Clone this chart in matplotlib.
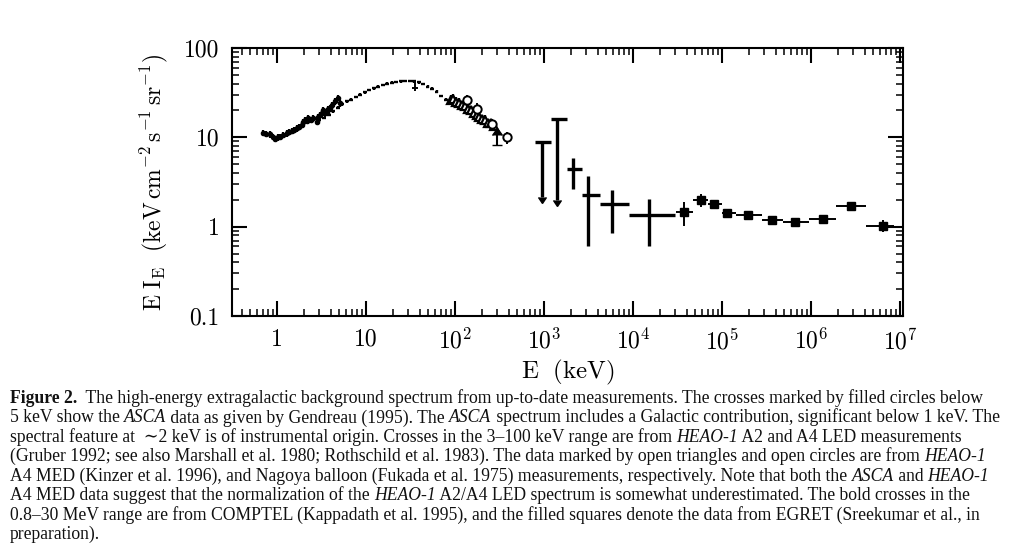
import matplotlib
matplotlib.use("Agg")
from matplotlib import pyplot as plt
import numpy as np

plt.rcParams['mathtext.fontset'] = 'cm'
plt.rcParams['font.family'] = ['DejaVu Serif']

# ASCA, crosses with filled circles (E in keV, E*I_E in keV cm^-2 s^-1 sr^-1)
asca_e = [0.70, 0.76, 0.83, 0.89, 0.95, 1.02, 1.08, 1.18, 1.29, 1.37, 1.46, 1.56,
          1.66, 1.77, 1.89, 1.97, 2.06, 2.15, 2.25, 2.40, 2.56, 2.79, 2.91, 3.04,
          3.17, 3.31, 3.45, 3.60, 3.77, 3.94, 4.20, 4.48, 4.79, 5.10]
asca_f = [11.3, 11.0, 10.8, 10.2, 9.7, 10.0, 10.2, 10.7, 11.1, 11.5, 11.8, 12.2,
          12.6, 13.0, 13.7, 14.8, 15.6, 15.3, 16.3, 15.6, 16.3, 15.0, 16.8, 17.8,
          18.8, 20.2, 18.5, 19.4, 20.5, 21.1, 22.8, 25.2, 27.8, 24.0]

# HEAO-1 A2 / A4 LED crosses
heao_e = [3.0, 3.4, 3.8, 4.3, 4.8, 5.4, 6.1, 6.8, 7.7, 8.6, 9.7, 10.9, 12.2, 13.7,
          15.4, 17.3, 19.4, 21.8, 24.5, 27.5, 30.9, 34.7, 39.0, 43.8, 49.2, 55.3,
          62.1, 69.8, 78.4, 88.0]
heao_f = [15.5, 16.5, 18.0, 19.5, 21.5, 23.5, 25.2, 26.5, 28.2, 30.0, 32.0, 33.8,
          35.5, 37.0, 38.6, 40.0, 41.0, 41.8, 42.3, 42.6, 42.8, 42.3, 41.5, 39.5,
          37.0, 35.0, 32.5, 29.0, 26.5, 25.0]
heao_big_e = [35.6]
heao_big_f = [35.5]

# HEAO-1 A4 MED, open triangles
med_e = [90, 96, 103, 112, 120, 130, 140, 150, 162, 175, 188, 202, 218, 234, 252, 272]
med_f = [26.5, 27.0, 25.0, 24.5, 23.0, 22.5, 20.5, 20.0, 18.5, 18.0, 17.0, 16.0,
         15.8, 14.5, 14.5, 13.5]
med_lim_e = [295]
med_lim_f = [8.2]

# Nagoya balloon, open circles
nag_e = [135, 176, 258, 380]
nag_f = [26.0, 21.0, 14.0, 10.0]

# COMPTEL bold crosses (bins in keV)
comptel_lo = [2700, 4300, 9000, 1800]
comptel_hi = [4300, 9000, 30000, 2700]
comptel_e = [3120, 5750, 15100, 2140]
comptel_f = [2.25, 1.78, 1.34, 4.37]
comptel_top = [3.71, 2.56, 2.03, 5.80]
comptel_bot = [0.607, 0.857, 0.607, 2.63]
# COMPTEL upper limits
climit_lo = [800, 1200]
climit_hi = [1200, 1800]
climit_e = [942, 1412]
climit_f = [8.9, 16.1]
climit_end = [2.17, 1.98]

# EGRET filled squares
egret_lo = [30400, 47600, 70000, 100000, 143000, 283000, 480000, 960000, 1.9e6, 4.1e6]
egret_hi = [47600, 70000, 100000, 143000, 283000, 480000, 960000, 1.9e6, 4.1e6, 8.6e6]
egret_e = [37400, 57700, 81900, 113000, 194000, 361000, 661000, 1.35e6, 2.82e6, 6.46e6]
egret_f = [1.46, 2.01, 1.78, 1.43, 1.34, 1.20, 1.13, 1.23, 1.71, 1.03]
egret_err = [0.45, 0.33, 0.10, 0.10, 0.06, 0.06, 0.06, 0.08, 0.10, 0.15]

xtick_vals = [1, 10, 1e2, 1e3, 1e4, 1e5, 1e6, 1e7]
xtick_labels = ['1', '10', '$10^2$', '$10^3$', '$10^4$', '$10^5$', '$10^6$', '$10^7$']
ytick_vals = [0.1, 1, 10, 100]
ytick_labels = ['0.1', '1', '10', '100']

W, H = 1013, 559
fig = plt.figure(figsize=(W / 100, H / 100), dpi=100)
ax = fig.add_axes([232 / W, 1 - 316 / H, (903 - 232) / W, (316 - 48) / H])
ax.set_xscale('log')
ax.set_yscale('log')
ax.set_xlim(0.312, 1.08e7)
ax.set_ylim(0.1, 100)

k = 'black'
a_e = np.array(asca_e)
ax.errorbar(asca_e, asca_f, yerr=np.array(asca_f) * 0.08, xerr=a_e * 0.035,
            fmt='o', ms=3, color=k, lw=1.6, capsize=0)
h_e = np.array(heao_e)
ax.errorbar(heao_e, heao_f, yerr=np.array(heao_f) * 0.035, xerr=h_e * 0.05,
            fmt='none', color=k, lw=1.7, capsize=0)
ax.errorbar(heao_big_e, heao_big_f, yerr=[[2.7], [5.9]], xerr=[[2.5], [2.5]],
            fmt='none', color=k, lw=1.4, capsize=0)
ax.errorbar(med_e, med_f, yerr=np.array(med_f) * 0.12, xerr=np.array(med_e) * 0.035,
            fmt='^', ms=5.5, mfc='white', mec=k, mew=1.6, color=k, lw=1.6, capsize=0)
ax.errorbar(med_lim_e, med_lim_f, yerr=[2.3], lolims=[True], fmt='none',
            color=k, lw=1.5, capsize=3.5)
nf = np.array(nag_f)
ax.errorbar(nag_e, nag_f, yerr=nf * 0.16, fmt='o', ms=6, mfc='white', mec=k,
            mew=1.4, color=k, lw=1.4, capsize=0)

ce = np.array(comptel_e)
ax.errorbar(comptel_e, comptel_f,
            xerr=[ce - np.array(comptel_lo), np.array(comptel_hi) - ce],
            yerr=[np.array(comptel_f) - np.array(comptel_bot),
                  np.array(comptel_top) - np.array(comptel_f)],
            fmt='none', color=k, lw=2.4, capsize=0)
le = np.array(climit_e)
lf = np.array(climit_f)
ax.errorbar(climit_e, climit_f, xerr=[le - np.array(climit_lo), np.array(climit_hi) - le],
            fmt='none', color=k, lw=2.4, capsize=0)
ax.errorbar(climit_e, climit_f, yerr=lf - np.array(climit_end), uplims=[True, True],
            fmt='none', color=k, lw=2.4, capsize=3)

ee = np.array(egret_e)
ax.errorbar(egret_e, egret_f, xerr=[ee - np.array(egret_lo), np.array(egret_hi) - ee],
            yerr=egret_err, fmt='s', ms=6, color=k, lw=1.4, capsize=0)

ax.set_xticks(xtick_vals)
ax.set_xticklabels(xtick_labels)
ax.set_yticks(ytick_vals)
ax.set_yticklabels(ytick_labels)
ax.minorticks_on()
for s in ax.spines.values():
    s.set_linewidth(1.5)
ax.tick_params(which='both', direction='in', top=True, right=True, labelsize=17)
ax.tick_params(which='major', length=11, width=1.5, pad=9)
ax.tick_params(which='minor', length=5, width=1.1)
for lab in ax.get_xticklabels() + ax.get_yticklabels():
    lab.set_fontfamily('cmr10')
ax.set_xlabel(r'$\mathrm{E\ \ (keV)}$', fontsize=18, labelpad=3)
ax.set_ylabel(r'$\mathrm{E\ I_E\ \ (keV\,cm^{-2}\,s^{-1}\,sr^{-1})}$', fontsize=17, labelpad=10)

# caption, drawn segment by segment so italic and bold words sit inline
cap_lines = [
    [("Figure 2.", 'b'), ("  The high-energy extragalactic background spectrum from up-to-date measurements. The crosses marked by filled circles below", 'n')],
    [("5 keV show the ", 'n'), ("ASCA", 'i'), (" data as given by Gendreau (1995). The ", 'n'), ("ASCA", 'i'), (" spectrum includes a Galactic contribution, significant below 1 keV. The", 'n')],
    [("spectral feature at  \u223c2 keV is of instrumental origin. Crosses in the 3\u2013100 keV range are from ", 'n'), ("HEAO-1", 'i'), (" A2 and A4 LED measurements", 'n')],
    [("(Gruber 1992; see also Marshall et al. 1980; Rothschild et al. 1983). The data marked by open triangles and open circles are from ", 'n'), ("HEAO-1", 'i')],
    [("A4 MED (Kinzer et al. 1996), and Nagoya balloon (Fukada et al. 1975) measurements, respectively. Note that both the ", 'n'), ("ASCA", 'i'), (" and ", 'n'), ("HEAO-1", 'i')],
    [("A4 MED data suggest that the normalization of the ", 'n'), ("HEAO-1", 'i'), (" A2/A4 LED spectrum is somewhat underestimated. The bold crosses in the", 'n')],
    [("0.8\u201330 MeV range are from COMPTEL (Kappadath et al. 1995), and the filled squares denote the data from EGRET (Sreekumar et al., in", 'n')],
    [("preparation).", 'n')],
]
fam = ['Liberation Serif', 'DejaVu Serif']
renderer = fig.canvas.get_renderer()


def fonts(size):
    return {'n': dict(family=fam, size=size),
            'i': dict(family=fam, size=size, style='italic'),
            'b': dict(family=fam, size=size, weight='bold')}


def seg_width(s, st, cf):
    t = fig.text(0, 0, "|" + s + "|", **cf[st])
    w = t.get_window_extent(renderer).width
    t.remove()
    t = fig.text(0, 0, "||", **cf[st])
    w -= t.get_window_extent(renderer).width
    t.remove()
    return w


# shrink the caption just enough that the longest line fits in the figure
x_start = 10
cap_size = 13.2
cf = fonts(cap_size)
widest = max(sum(seg_width(s, st, cf) for s, st in line) for line in cap_lines)
cap_size = cap_size * min(1.0, (W - 4 - x_start) / widest)
cf = fonts(cap_size)

y0 = 403
for i, line in enumerate(cap_lines):
    x = x_start
    y = y0 + i * 19.45
    for s, st in line:
        fig.text(x / W, 1 - y / H, s, va='baseline', ha='left', color='#111111', **cf[st])
        x += seg_width(s, st, cf)

fig.savefig('out.png', dpi=100)
